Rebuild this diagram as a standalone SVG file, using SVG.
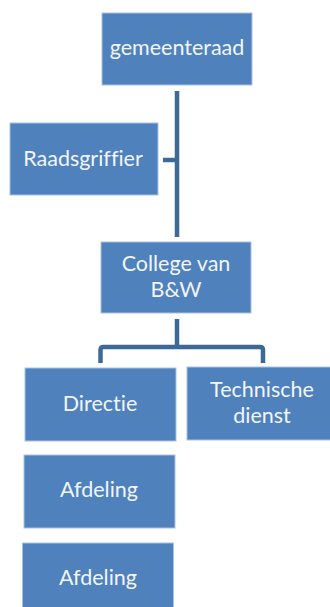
<svg xmlns="http://www.w3.org/2000/svg" width="330" height="607" viewBox="0 0 330 607">
  <style>
    .box { fill: #4f81bd; stroke: #a9c2e2; stroke-width: 1; }
    .lbl { fill: #f2f5fb; font-family: Lato, "Open Sans", sans-serif; font-size: 21.5px; text-anchor: middle; font-variant-ligatures: none; }
    .link { fill: none; stroke: #3d6996; stroke-width: 4.5; stroke-linejoin: round; }
  </style>
  <rect width="330" height="607" fill="#ffffff"/>

  <g id="connectors">
    <path class="link" d="M177,91 V237"/>
    <path class="link" d="M163,160 H177"/>
    <path class="link" d="M177,319 V347"/>
    <path class="link" d="M100.5,363 V350 Q100.5,347 103.5,347 H260 Q263,347 263,350 V363"/>
  </g>

  <g id="gemeenteraad">
    <rect class="box" x="102" y="13" width="150" height="72"/>
    <text class="lbl" x="177" y="55">gemeenteraad</text>
  </g>
  <g id="raadsgriffier">
    <rect class="box" x="10" y="123" width="148" height="72"/>
    <text class="lbl" x="83" y="166">Raadsgriffier</text>
  </g>
  <g id="college">
    <rect class="box" x="101" y="242" width="150" height="71"/>
    <text class="lbl" x="176" y="271">College van</text>
    <text class="lbl" x="176" y="297">B&amp;W</text>
  </g>
  <g id="directie">
    <rect class="box" x="25" y="368" width="151" height="73"/>
    <text class="lbl" x="100" y="411">Directie</text>
  </g>
  <g id="technische-dienst">
    <rect class="box" x="187" y="367" width="150" height="73"/>
    <text class="lbl" x="262" y="396.5">Technische</text>
    <text class="lbl" x="262" y="422.5">dienst</text>
  </g>
  <g id="afdeling-1">
    <rect class="box" x="24" y="455" width="151" height="73"/>
    <text class="lbl" x="99" y="497">Afdeling</text>
  </g>
  <g id="afdeling-2">
    <rect class="box" x="22.5" y="543" width="151" height="73"/>
    <text class="lbl" x="98" y="585">Afdeling</text>
  </g>
</svg>
